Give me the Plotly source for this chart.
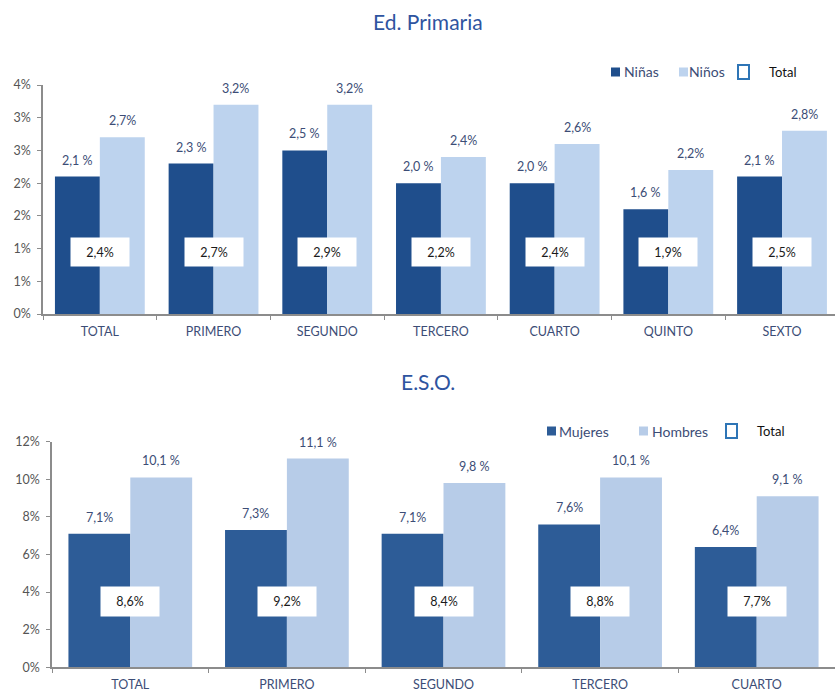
import plotly.graph_objects as go

# ---- data -------------------------------------------------------------
prim_cats = ["TOTAL", "PRIMERO", "SEGUNDO", "TERCERO", "CUARTO", "QUINTO", "SEXTO"]
prim_ninas = [2.1, 2.3, 2.5, 2.0, 2.0, 1.6, 2.1]
prim_ninos = [2.7, 3.2, 3.2, 2.4, 2.6, 2.2, 2.8]
prim_total = [2.4, 2.7, 2.9, 2.2, 2.4, 1.9, 2.5]

eso_cats = ["TOTAL", "PRIMERO", "SEGUNDO", "TERCERO", "CUARTO"]
eso_mujeres = [7.1, 7.3, 7.1, 7.6, 6.4]
eso_hombres = [10.1, 11.1, 9.8, 10.1, 9.1]
eso_total = [8.6, 9.2, 8.4, 8.8, 7.7]

prim_ticks = [0, 0.5, 1, 1.5, 2, 2.5, 3, 3.5]
prim_ticktext = ["0%", "1%", "1%", "2%", "2%", "3%", "3%", "4%"]
eso_ticks = [0, 2, 4, 6, 8, 10, 12]
eso_ticktext = ["0%", "2%", "4%", "6%", "8%", "10%", "12%"]

# ---- styling ----------------------------------------------------------
W, H = 835, 691
FONT = "Lato"
TITLE_C = "#2E54A0"
LABEL_C = "#3C4D76"
AXIS_C = "#8C8C8C"
PRIM_DARK, PRIM_LIGHT = "#1F4E8C", "#BDD3EE"
ESO_DARK, ESO_LIGHT = "#2D5C97", "#B7CCE8"
BOX_C = "#2E75B6"
BARGAP = 0.21

PRIM_X0, ESO_X0 = 43, 52          # left edge of each plot area (px)
PRIM_RANGE = [-0.5, 6.466]
ESO_RANGE = [-0.5, 4.5]


def px(x):
    return x / W


def py(y):
    return 1 - y / H


def fmt(v, suffix):
    return f"{v:.1f}".replace(".", ",") + suffix


fig = go.Figure()

fig.add_bar(x=prim_cats, y=prim_ninas, name="Niñas", marker_color=PRIM_DARK,
            xaxis="x", yaxis="y")
fig.add_bar(x=prim_cats, y=prim_ninos, name="Niños", marker_color=PRIM_LIGHT,
            xaxis="x", yaxis="y")
fig.add_bar(x=eso_cats, y=eso_mujeres, name="Mujeres", marker_color=ESO_DARK,
            xaxis="x2", yaxis="y2")
fig.add_bar(x=eso_cats, y=eso_hombres, name="Hombres", marker_color=ESO_LIGHT,
            xaxis="x2", yaxis="y2")
fig.update_traces(marker_line_width=0, showlegend=False)

annotations = []
shapes = []


# value labels above each bar (half a bar width left / right of the category centre)
def value_labels(cats, vals, suffix, xref, yref, side, x0, rng):
    cat_px = (W - x0) / (rng[1] - rng[0])
    shift = side * cat_px * (1 - BARGAP) / 4
    for c, v in zip(cats, vals):
        annotations.append(dict(x=c, y=v, xref=xref, yref=yref, text=fmt(v, suffix),
                                showarrow=False, xanchor="center", yanchor="bottom",
                                xshift=shift, yshift=7,
                                font=dict(family=FONT, size=12.5, color=LABEL_C)))


value_labels(prim_cats, prim_ninas, " %", "x", "y", -1, PRIM_X0, PRIM_RANGE)
value_labels(prim_cats, prim_ninos, "%", "x", "y", 1, PRIM_X0, PRIM_RANGE)
value_labels(eso_cats, eso_mujeres, "%", "x2", "y2", -1, ESO_X0, ESO_RANGE)
value_labels(eso_cats, eso_hombres, " %", "x2", "y2", 1, ESO_X0, ESO_RANGE)

# total value boxes
for c, v in zip(prim_cats, prim_total):
    annotations.append(dict(x=c, y=0.95, xref="x", yref="y", text=fmt(v, "%"),
                            showarrow=False, bgcolor="white", width=56, height=26,
                            font=dict(family=FONT, size=12.5, color="#1A1A1A")))
for c, v in zip(eso_cats, eso_total):
    annotations.append(dict(x=c, y=3.5, xref="x2", yref="y2", text=fmt(v, "%"),
                            showarrow=False, bgcolor="white", width=56, height=27,
                            font=dict(family=FONT, size=12.5, color="#1A1A1A")))

# titles
for t, yy in (("Ed. Primaria", 21), ("E.S.O.", 382)):
    annotations.append(dict(x=px(428), y=py(yy), xref="paper", yref="paper", text=t,
                            showarrow=False, xanchor="center", yanchor="middle",
                            font=dict(family=FONT, size=21, color=TITLE_C)))


# legends
def legend(yc, items, dark, light):
    (dx, n1x, lx, n2x, bx, tx), (n1, n2) = items
    shapes.append(dict(type="rect", xref="paper", yref="paper", x0=px(dx), x1=px(dx + 9),
                       y0=py(yc + 4.5), y1=py(yc - 4.5), fillcolor=dark, line_width=0))
    shapes.append(dict(type="rect", xref="paper", yref="paper", x0=px(lx), x1=px(lx + 9),
                       y0=py(yc + 4.5), y1=py(yc - 4.5), fillcolor=light, line_width=0))
    shapes.append(dict(type="rect", xref="paper", yref="paper", x0=px(bx), x1=px(bx + 11),
                       y0=py(yc + 7), y1=py(yc - 7), fillcolor="white",
                       line=dict(color=BOX_C, width=2)))
    for t, x0, col, sz in ((n1, n1x, LABEL_C, 14), (n2, n2x, LABEL_C, 14),
                           ("Total", tx, "#111111", 13)):
        annotations.append(dict(x=px(x0), y=py(yc), xref="paper", yref="paper", text=t,
                                showarrow=False, xanchor="left", yanchor="middle",
                                font=dict(family=FONT, size=sz, color=col)))


legend(72, ((611, 622, 679, 687, 738, 767), ("Niñas", "Niños")), PRIM_DARK, PRIM_LIGHT)
legend(431, ((547, 557, 639, 650, 726, 755), ("Mujeres", "Hombres")), ESO_DARK, ESO_LIGHT)

axis_common = dict(showline=True, linecolor=AXIS_C, linewidth=1.5, ticks="outside",
                   tickcolor=AXIS_C, ticklen=4, showgrid=False, zeroline=False,
                   automargin=False)
xaxis_style = dict(tickfont=dict(family=FONT, size=12.5, color=LABEL_C),
                   ticklabelstandoff=5, **axis_common)
yaxis_style = dict(tickfont=dict(family=FONT, size=12.5, color="#555555"),
                   ticklabelstandoff=4, **axis_common)

fig.update_layout(
    width=W, height=H,
    margin=dict(l=0, r=0, t=0, b=0, autoexpand=False),
    paper_bgcolor="white", plot_bgcolor="white",
    barmode="group", bargap=BARGAP, bargroupgap=0,
    showlegend=False,
    font=dict(family=FONT),
    xaxis=dict(domain=[px(PRIM_X0), 1], range=PRIM_RANGE, type="category",
               tickson="boundaries", anchor="y", **xaxis_style),
    yaxis=dict(domain=[py(314), py(85)], range=[0, 3.5], tickvals=prim_ticks,
               ticktext=prim_ticktext, anchor="x", **yaxis_style),
    xaxis2=dict(domain=[px(ESO_X0), 1], range=ESO_RANGE, type="category",
                tickson="boundaries", anchor="y2", **xaxis_style),
    yaxis2=dict(domain=[py(667.3), py(441.7)], range=[0, 12], tickvals=eso_ticks,
                ticktext=eso_ticktext, anchor="x2", **yaxis_style),
    annotations=annotations,
    shapes=shapes,
)

fig.write_html("out.html")
